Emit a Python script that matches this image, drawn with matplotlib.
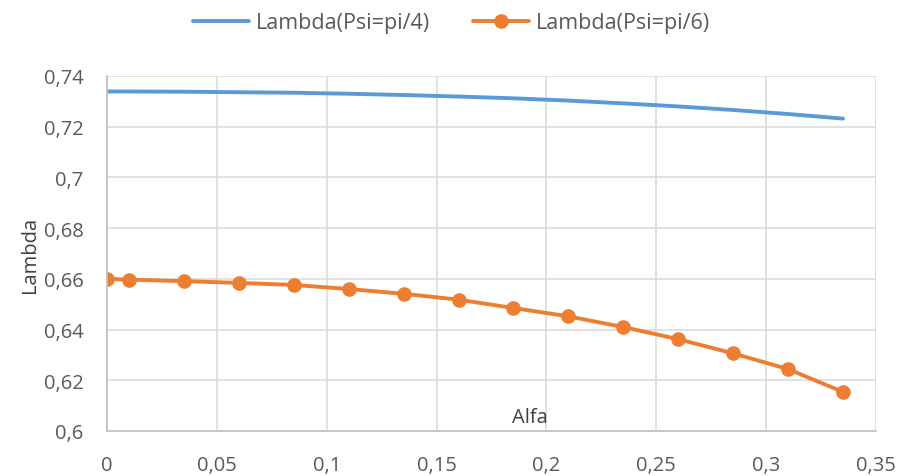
import matplotlib
matplotlib.use("Agg")
import matplotlib.pyplot as plt
from matplotlib.ticker import FuncFormatter

plt.rcParams['font.family'] = ['Open Sans', 'DejaVu Sans']

alfa = [0, 0.01, 0.035, 0.06, 0.085, 0.11, 0.135, 0.16, 0.185, 0.21, 0.235, 0.26, 0.285, 0.31, 0.335]
lambda_pi4 = [0.7339, 0.7339, 0.7338, 0.7336, 0.7334, 0.7330, 0.7325, 0.7319, 0.7312, 0.7303,
              0.7292, 0.7280, 0.7266, 0.7250, 0.7232]
lambda_pi6 = [0.6600, 0.6597, 0.6591, 0.6584, 0.6576, 0.6560, 0.6541, 0.6518, 0.6485, 0.6452,
              0.6410, 0.6362, 0.6306, 0.6244, 0.6154]
series_names = ["Lambda(Psi=pi/4)", "Lambda(Psi=pi/6)"]
x_ticks = [0, 0.05, 0.1, 0.15, 0.2, 0.25, 0.3, 0.35]
y_ticks = [0.6, 0.62, 0.64, 0.66, 0.68, 0.7, 0.72, 0.74]

W, H = 903, 477
fig = plt.figure(figsize=(W / 100, H / 100), dpi=100)
left, right, top, bottom = 107, 876, 77, 432
ax = fig.add_axes([left / W, 1 - bottom / H, (right - left) / W, (bottom - top) / H])

blue = "#5B9BD5"
orange = "#ED7D31"
ax.plot(alfa, lambda_pi4, color=blue, lw=2.8, label=series_names[0], solid_capstyle='round')
ax.plot(alfa, lambda_pi6, color=orange, lw=2.8, marker='o', markersize=9.5,
        label=series_names[1], solid_capstyle='round')

ax.set_xlim(0, 0.35)
ax.set_ylim(0.6, 0.74)
ax.set_xticks(x_ticks)
ax.set_yticks(y_ticks)

def fmt(v, pos):
    s = ("%.2f" % v).rstrip('0').rstrip('.')
    return s.replace('.', ',')

ax.xaxis.set_major_formatter(FuncFormatter(fmt))
ax.yaxis.set_major_formatter(FuncFormatter(fmt))
ax.grid(True, color="#D9D9D9", lw=1.1)
ax.set_axisbelow(True)
for s in ['top', 'right']:
    ax.spines[s].set_visible(False)
for s in ['left', 'bottom']:
    ax.spines[s].set_color("#BFBFBF")
    ax.spines[s].set_linewidth(1.2)
ax.tick_params(axis='both', length=0, labelsize=14.5, colors="#595959")
ax.tick_params(axis='x', pad=17)
ax.tick_params(axis='y', pad=17)

fig.text(530 / W, 1 - 418 / H, "Alfa", ha='center', va='center', fontsize=14.5, color="#404040")
fig.text(30 / W, 1 - 255 / H, "Lambda", ha='center', va='center', rotation=90, fontsize=14.5, color="#404040")

leg = fig.legend(loc='center', bbox_to_anchor=(0.5, 1 - 24 / H), ncol=2, frameon=False,
                 fontsize=15.5, handlelength=2.6, columnspacing=2.0, handletextpad=0.3)
for t in leg.get_texts():
    t.set_color("#595959")

fig.savefig("out.png", dpi=100)
